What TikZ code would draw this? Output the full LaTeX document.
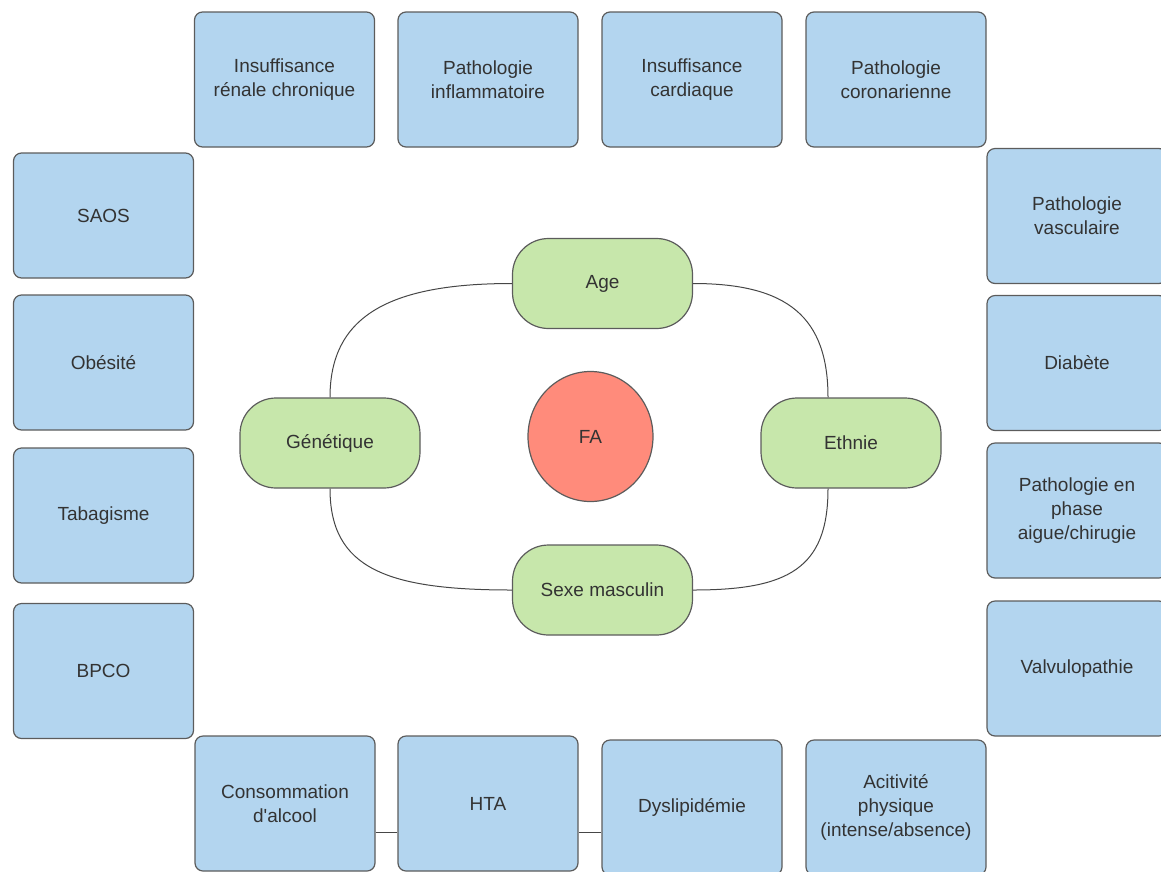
\documentclass[tikz,border=0pt]{standalone}
\usepackage{fontspec}
\setmainfont{Liberation Sans}
\usetikzlibrary{shapes.geometric,calc}
\definecolor{bluefill}{RGB}{179,213,239}
\definecolor{greenfill}{RGB}{199,231,171}
\definecolor{redfill}{RGB}{255,139,123}
\definecolor{bordercol}{RGB}{92,92,92}
\definecolor{textcol}{RGB}{51,51,51}
\definecolor{linecol}{RGB}{70,70,70}
\tikzset{
  base/.style={draw=bordercol, line width=1.2pt, inner sep=0pt, text=textcol, align=center,
    font=\fontsize{19}{24}\selectfont},
  bluebox/.style={base, rectangle, rounded corners=8pt, fill=bluefill, minimum width=180pt, minimum height=135pt},
  greenbox/.style={base, rectangle, rounded corners=36pt, fill=greenfill, minimum width=180pt, minimum height=90pt},
  redell/.style={base, ellipse, fill=redfill, minimum width=125pt, minimum height=130pt},
  conn/.style={draw=linecol, line width=1pt}
}
\begin{document}
\begin{tikzpicture}[x=1pt,y=-1pt]
\useasboundingbox (0,0) rectangle (1161,871);
\clip (0,0) rectangle (1161,871);
% top row
\node[bluebox] (irc) at (284.5,79.5) {Insuffisance\\rénale chronique};
\node[bluebox] (inflam) at (488,79.5) {Pathologie\\inflammatoire};
\node[bluebox] (card) at (692,79.5) {Insuffisance\\cardiaque};
\node[bluebox] (coro) at (896,79.5) {Pathologie\\coronarienne};
% left column
\node[bluebox, minimum height=125pt] (saos) at (103.5,215.5) {SAOS};
\node[bluebox] (obes) at (103.5,362.5) {Obésité};
\node[bluebox] (taba) at (103.5,515.5) {Tabagisme};
\node[bluebox] (bpco) at (103.5,671) {BPCO};
% right column
\node[bluebox] (vasc) at (1077,216) {Pathologie\\vasculaire};
\node[bluebox] (diab) at (1077,363) {Diabète};
\node[bluebox] (phase) at (1077,510.5) {Pathologie en\\phase\\aigue/chirugie};
\node[bluebox] (valv) at (1077,668.5) {Valvulopathie};
% bottom row
\node[bluebox] (alcool) at (285,803.5) {Consommation\\d\textquotesingle alcool};
\node[bluebox] (hta) at (488,803.5) {HTA};
\node[bluebox] (dysl) at (692,807.5) {Dyslipidémie};
\node[bluebox] (acti) at (896,807.5) {Acitivité\\physique\\(intense/absence)};
% centre
\node[greenbox] (age) at (602.5,283.5) {Age};
\node[greenbox] (gen) at (330,443) {Génétique};
\node[greenbox] (eth) at (851,443) {Ethnie};
\node[greenbox] (sexe) at (602.5,590) {Sexe masculin};
\node[redell] (fa) at (590.5,436.5) {FA};
% curved connectors
\draw[conn] (age.west) .. controls +(-125,0) and +(0,-80) .. (gen.north);
\draw[conn] (age.east) .. controls +(95,0) and +(0,-80) .. ([xshift=-23pt]eth.north);
\draw[conn] (gen.south) .. controls +(0,80) and +(-125,0) .. (sexe.west);
\draw[conn] ([xshift=-23pt]eth.south) .. controls +(0,80) and +(95,0) .. (sexe.east);
% bottom straight connectors
\draw[conn] ([yshift=-28.5pt]alcool.east) -- ([yshift=-28.5pt]alcool.east -| hta.west);
\draw[conn] ([yshift=-28.5pt]hta.east) -- ([yshift=-28.5pt]hta.east -| dysl.west);
\end{tikzpicture}
\end{document}
